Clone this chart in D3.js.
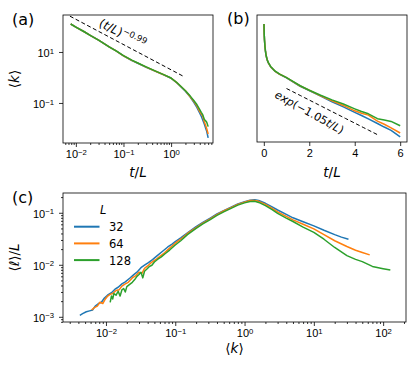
<!DOCTYPE html>
<html>
<meta charset="utf-8">
<head>
<style>
body { margin: 0; background: white; }
svg { font-family: "DejaVu Sans", sans-serif; }
.axis line { stroke: black; stroke-width: 0.8; }
.axis path.domain { display: none; }
.axis text { font-size: 11px; fill: black; }
.frame { fill: none; stroke: black; stroke-width: 0.8; }
.curve { fill: none; stroke-width: 1.5; stroke-linejoin: round; }
.fit { fill: none; stroke: black; stroke-width: 1; stroke-dasharray: 4,2.5; }
.label { font-size: 13.5px; }
.panel { font-size: 16px; }
.legend text { font-size: 11.5px; }
</style>
</head>
<body>
<svg width="415" height="370"></svg>
<script src="https://d3js.org/d3.v7.min.js"></script>
<script>

// system sizes, one curve each
var sizes = ["32", "64", "128"];
var colors = ["#1f77b4", "#ff7f0e", "#2ca02c"];

// panels (a) and (b): mean degree against t/L
var tOverL = [0.0078, 0.01, 0.015, 0.02, 0.03, 0.05, 0.07, 0.1, 0.15, 0.2, 0.3, 0.5, 0.7, 1.0, 1.3, 1.6, 2.0, 2.5, 3.0, 3.5, 4.0, 4.3, 4.6, 5.0, 5.3, 5.6, 6.0];
var kMean32  = [125, 95, 62, 45, 29, 16, 11, 7.0, 4.6, 3.6, 2.5, 1.66, 1.26, 0.93, 0.63, 0.43, 0.29, 0.175, 0.105, 0.066, 0.04, 0.030, 0.022, 0.0145, 0.0105, 0.0078, 0.0043];
var kMean64  = [125, 95, 62, 45, 29, 16, 11, 7.1, 4.7, 3.65, 2.55, 1.68, 1.28, 0.94, 0.64, 0.44, 0.3, 0.18, 0.115, 0.075, 0.046, 0.037, 0.031, 0.018, 0.0135, 0.0098, 0.0061];
var kMean128 = [125, 95, 62, 45, 29, 16, 11, 7.2, 4.8, 3.7, 2.6, 1.7, 1.3, 0.95, 0.65, 0.45, 0.3, 0.19, 0.125, 0.085, 0.055, 0.043, 0.035, 0.0225, 0.02, 0.0175, 0.0118];

// guide lines
var powerExp = -0.99, powerAmp = 2.0, powerRange = [0.0075, 1.9];
var expRate = -1.05, expAmp = 1.0, expRange = [1.0, 5.0];

// panel (c): mean loop length / L against mean degree
var kC32 = [0.0042, 0.0046, 0.0052, 0.0058, 0.0064, 0.007, 0.0078, 0.0086, 0.0095, 0.0105, 0.012, 0.0135, 0.015, 0.017, 0.019, 0.022, 0.025, 0.028, 0.032, 0.036, 0.041, 0.047, 0.055, 0.065, 0.078, 0.09, 0.1, 0.12, 0.15, 0.2, 0.25, 0.32, 0.4, 0.5, 0.65, 0.8, 1.0, 1.2, 1.4, 1.6, 2.0, 2.5, 3.0, 4.0, 5.0, 7.0, 10, 14, 20, 25, 31.6];
var ellC32 = [0.00107, 0.00115, 0.00125, 0.0013, 0.00135, 0.0016, 0.0018, 0.0019, 0.0023, 0.0026, 0.0029, 0.0034, 0.0037, 0.0043, 0.0047, 0.0055, 0.0064, 0.0072, 0.0088, 0.0098, 0.011, 0.0126, 0.015, 0.018, 0.022, 0.025, 0.028, 0.033, 0.041, 0.054, 0.065, 0.079, 0.095, 0.11, 0.13, 0.148, 0.163, 0.175, 0.178, 0.172, 0.152, 0.13, 0.113, 0.093, 0.08, 0.067, 0.056, 0.046, 0.038, 0.034, 0.031];
var kC64 = [0.0062, 0.0068, 0.0075, 0.0082, 0.009, 0.0098, 0.0106, 0.0115, 0.0125, 0.014, 0.0155, 0.017, 0.019, 0.021, 0.024, 0.027, 0.03, 0.033, 0.036, 0.04, 0.045, 0.052, 0.06, 0.07, 0.08, 0.1, 0.12, 0.15, 0.2, 0.25, 0.32, 0.4, 0.5, 0.65, 0.8, 1.0, 1.2, 1.4, 1.6, 2.0, 2.5, 3.0, 4.0, 5.0, 7.0, 10, 14, 20, 30, 40, 50, 64];
var ellC64 = [0.00135, 0.0015, 0.0016, 0.0019, 0.0018, 0.0022, 0.0025, 0.0027, 0.0028, 0.0032, 0.0033, 0.0039, 0.0043, 0.0046, 0.0056, 0.0062, 0.0072, 0.0068, 0.0085, 0.0095, 0.011, 0.0125, 0.0145, 0.017, 0.02, 0.026, 0.031, 0.04, 0.052, 0.063, 0.076, 0.092, 0.108, 0.127, 0.145, 0.16, 0.172, 0.173, 0.166, 0.145, 0.122, 0.104, 0.085, 0.073, 0.06, 0.049, 0.038, 0.029, 0.0225, 0.019, 0.0172, 0.0155];
var kC128 = [0.0115, 0.012, 0.0125, 0.013, 0.014, 0.015, 0.016, 0.017, 0.018, 0.019, 0.02, 0.022, 0.024, 0.026, 0.028, 0.03, 0.032, 0.034, 0.036, 0.039, 0.042, 0.046, 0.05, 0.056, 0.063, 0.072, 0.083, 0.1, 0.12, 0.15, 0.2, 0.25, 0.32, 0.4, 0.5, 0.65, 0.8, 1.0, 1.2, 1.4, 1.6, 2.0, 2.5, 3.0, 4.0, 5.0, 7.0, 10, 14, 20, 30, 40, 50, 70, 100, 127];
var ellC128 = [0.0019, 0.0025, 0.0022, 0.0028, 0.0026, 0.0031, 0.0025, 0.0033, 0.0035, 0.003, 0.0038, 0.0042, 0.0046, 0.0052, 0.006, 0.0065, 0.0072, 0.0056, 0.0075, 0.0083, 0.0092, 0.0098, 0.0113, 0.0128, 0.0142, 0.0165, 0.0192, 0.024, 0.029, 0.038, 0.05, 0.061, 0.074, 0.089, 0.104, 0.123, 0.14, 0.155, 0.165, 0.166, 0.158, 0.137, 0.115, 0.097, 0.079, 0.068, 0.053, 0.042, 0.031, 0.0215, 0.015, 0.0127, 0.0115, 0.0093, 0.0084, 0.0079];

var kMeans = [kMean32, kMean64, kMean128];
var kC = [kC32, kC64, kC128], ellC = [ellC32, ellC64, ellC128];

var svg = d3.select("svg");

var A = {x0: 63, x1: 213, y0: 15, y1: 143},
    B = {x0: 257, x1: 407, y0: 15, y1: 142},
    C = {x0: 63, x1: 406, y0: 193, y1: 322};

var xa = d3.scaleLog().domain([Math.pow(10, -2.27), Math.pow(10, 0.88)]).range([A.x0, A.x1]),
    ya = d3.scaleLog().domain([Math.pow(10, -2.57), Math.pow(10, 2.45)]).range([A.y1, A.y0]),
    xb = d3.scaleLinear().domain([-0.3, 6.3]).range([B.x0, B.x1]),
    yb = d3.scaleLog().domain(ya.domain()).range([B.y1, B.y0]),
    xc = d3.scaleLog().domain([Math.pow(10, -2.62), Math.pow(10, 2.33)]).range([C.x0, C.x1]),
    yc = d3.scaleLog().domain([Math.pow(10, -3.1), Math.pow(10, -0.62)]).range([C.y1, C.y0]);

function minorTicks(scale) {
  var dom = scale.domain(), out = [];
  for (var e = Math.floor(Math.log10(dom[0])); e <= Math.ceil(Math.log10(dom[1])); e++)
    for (var m = 2; m < 10; m++) {
      var v = m * Math.pow(10, e);
      if (v >= dom[0] && v <= dom[1]) out.push(v);
    }
  return out;
}

// turn "10" tick text into 10 with a superscript exponent
function powerLabels(sel) {
  sel.selectAll(".tick text").each(function(d) {
    var t = d3.select(this), e = Math.round(Math.log10(d));
    t.text(null);
    t.append("tspan").text("10");
    t.append("tspan").attr("dy", "-0.45em").attr("font-size", "0.7em")
      .text(e < 0 ? "\u2212" + (-e) : e);
  });
}

function bottomLog(scale, y, majors) {
  svg.append("g").attr("class", "axis")
    .attr("transform", "translate(0," + y + ")")
    .call(d3.axisBottom(scale).tickValues(minorTicks(scale)).tickSize(2).tickFormat(""));
  svg.append("g").attr("class", "axis")
    .attr("transform", "translate(0," + y + ")")
    .call(d3.axisBottom(scale).tickValues(majors).tickSize(4).tickPadding(3).tickFormat(function() { return "10"; }))
    .call(powerLabels)
    .selectAll(".tick text").attr("dy", "0.75em");
}

function leftLog(scale, x, majors, minors) {
  if (minors)
    svg.append("g").attr("class", "axis")
      .attr("transform", "translate(" + x + ",0)")
      .call(d3.axisLeft(scale).tickValues(minorTicks(scale)).tickSize(2).tickFormat(""));
  svg.append("g").attr("class", "axis")
    .attr("transform", "translate(" + x + ",0)")
    .call(d3.axisLeft(scale).tickValues(majors).tickSize(4).tickPadding(5).tickFormat(function() { return "10"; }))
    .call(powerLabels)
    .selectAll(".tick text").attr("dy", "0.42em");
}

// panel (a)
bottomLog(xa, A.y1, [0.01, 0.1, 1]);
leftLog(ya, A.x0, [0.1, 10], false);

// panel (b)
svg.append("g").attr("class", "axis")
  .attr("transform", "translate(0," + B.y1 + ")")
  .call(d3.axisBottom(xb).tickValues([0, 2, 4, 6]).tickSize(4).tickPadding(3).tickFormat(d3.format("d")))
  .selectAll(".tick text").attr("dy", "0.75em");

// panel (c)
bottomLog(xc, C.y1, [0.01, 0.1, 1, 10, 100]);
leftLog(yc, C.x0, [0.001, 0.01, 0.1], true);

var lineA = d3.line().x(function(d) { return xa(d[0]); }).y(function(d) { return ya(d[1]); });
var lineB = d3.line().x(function(d) { return xb(d[0]); }).y(function(d) { return yb(d[1]); });
var lineC = d3.line().x(function(d) { return xc(d[0]); }).y(function(d) { return yc(d[1]); });

kMeans.forEach(function(ks, i) {
  var pts = tOverL.map(function(t, j) { return [t, ks[j]]; });
  svg.append("path").attr("class", "curve").attr("stroke", colors[i]).attr("d", lineA(pts));
  svg.append("path").attr("class", "curve").attr("stroke", colors[i]).attr("d", lineB(pts));
});

kC.forEach(function(ks, i) {
  var pts = ks.map(function(k, j) { return [k, ellC[i][j]]; });
  svg.append("path").attr("class", "curve").attr("stroke", colors[i]).attr("d", lineC(pts));
});

// dashed guides
var powPts = d3.range(0, 21).map(function(i) {
  var t = powerRange[0] * Math.pow(powerRange[1] / powerRange[0], i / 20);
  return [t, powerAmp * Math.pow(t, powerExp)];
});
svg.append("path").attr("class", "fit").attr("d", lineA(powPts));
var expPts = d3.range(0, 21).map(function(i) {
  var t = expRange[0] + (expRange[1] - expRange[0]) * i / 20;
  return [t, expAmp * Math.exp(expRate * t)];
});
svg.append("path").attr("class", "fit").attr("d", lineB(expPts));

// guide annotations
var ta = svg.append("text").attr("transform", "translate(98,26) rotate(26)").attr("font-size", "12px");
ta.append("tspan").text("(");
ta.append("tspan").attr("font-style", "italic").text("t");
ta.append("tspan").text("/");
ta.append("tspan").attr("font-style", "italic").text("L");
ta.append("tspan").text(")");
ta.append("tspan").attr("dy", "-0.5em").attr("font-size", "8.5px").text("\u22120.99");

var tb = svg.append("text").attr("transform", "translate(274,97) rotate(29)").attr("font-size", "11px");
tb.append("tspan").attr("font-style", "italic").text("exp");
tb.append("tspan").text("(\u22121.05");
tb.append("tspan").attr("font-style", "italic").text("t");
tb.append("tspan").text("/");
tb.append("tspan").attr("font-style", "italic").text("L");
tb.append("tspan").text(")");

// frames
[A, B, C].forEach(function(p) {
  svg.append("rect").attr("class", "frame")
    .attr("x", p.x0).attr("y", p.y0)
    .attr("width", p.x1 - p.x0).attr("height", p.y1 - p.y0);
});

// axis labels
function tOverLLabel(x) {
  var t = svg.append("text").attr("class", "label").attr("x", x).attr("y", 177).attr("text-anchor", "middle");
  t.append("tspan").attr("font-style", "italic").text("t");
  t.append("tspan").text("/");
  t.append("tspan").attr("font-style", "italic").text("L");
}
tOverLLabel((A.x0 + A.x1) / 2);
tOverLLabel((B.x0 + B.x1) / 2);

function kLabel(sel) {
  sel.append("tspan").text("\u27e8");
  sel.append("tspan").attr("font-style", "italic").text("k");
  sel.append("tspan").text("\u27e9");
}
svg.append("text").attr("class", "label").attr("text-anchor", "middle")
  .attr("transform", "translate(19," + (A.y0 + A.y1) / 2 + ") rotate(-90)")
  .call(kLabel);
svg.append("text").attr("class", "label").attr("text-anchor", "middle")
  .attr("x", (C.x0 + C.x1) / 2).attr("y", 353)
  .call(kLabel);
var ly = svg.append("text").attr("class", "label").attr("text-anchor", "middle")
  .attr("transform", "translate(19," + (C.y0 + C.y1) / 2 + ") rotate(-90)");
ly.append("tspan").text("\u27e8\u2113\u27e9/");
ly.append("tspan").attr("font-style", "italic").text("L");

// panel letters
svg.append("text").attr("class", "panel").attr("x", 12).attr("y", 24.5).text("(a)");
svg.append("text").attr("class", "panel").attr("x", 227).attr("y", 23.5).text("(b)");
svg.append("text").attr("class", "panel").attr("x", 12).attr("y", 203).text("(c)");

// legend
var legend = svg.append("g").attr("class", "legend");
legend.append("text").attr("x", 100).attr("y", 213.5).attr("font-style", "italic").text("L");
sizes.forEach(function(s, i) {
  var yy = 226.7 + i * 16.7;
  legend.append("line").attr("x1", 74).attr("x2", 99.5).attr("y1", yy).attr("y2", yy)
    .attr("stroke", colors[i]).attr("stroke-width", 2);
  legend.append("text").attr("x", 109).attr("y", yy + 4.6).text(s);
});

</script>
</body>
</html>
